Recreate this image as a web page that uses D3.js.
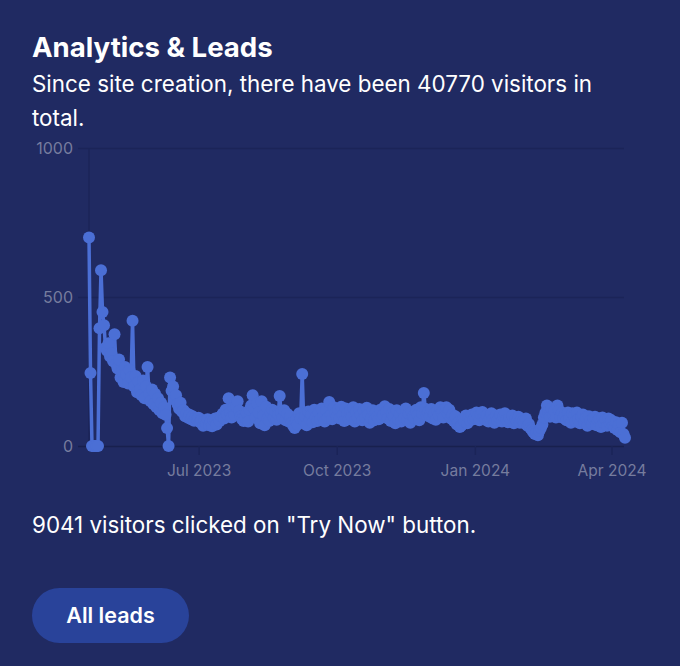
<!DOCTYPE html>
<html>
<head>
<meta charset="utf-8">
<script src="https://cdn.jsdelivr.net/npm/d3@7"></script>
<style>
  html, body { margin: 0; padding: 0; background: #202a62; }
  svg { display: block; font-family: Inter, "Noto Sans", sans-serif; }
</style>
</head>
<body>
<div id="chart"></div>
<script>
// daily visitors, first day is 19 Apr 2023
var startDate = "2023-04-19";
var visitorsApr23 = [700, 245, 0, 0, 0, 0, 0, 395, 590, 450, 405, 330];
var visitorsMay23 = [320, 345, 300, 310, 285, 375, 275, 260, 290, 230,
                     250, 215, 265, 240, 210, 255, 230, 420, 200, 235,
                     180, 215, 190, 170, 220, 160, 200, 265, 175, 150, 190];
var visitorsJun23 = [140, 175, 130, 160, 120, 145, 110, 130, 105, 60,
                     0, 230, 185, 200, 155, 170, 140, 125, 145, 115,
                     120, 100, 110, 95, 105, 90, 100, 85, 95, 90];
var visitorsJul23 = [95, 80, 88, 68, 85, 74, 90, 70, 82, 66,
                     86, 92, 72, 95, 84, 100, 108, 92, 122, 106,
                     160, 112, 96, 128, 104, 132, 150, 118, 100, 90, 84];
var visitorsAug23 = [95, 112, 82, 122, 136, 170, 125, 96, 142, 112,
                     76, 150, 102, 70, 132, 92, 84, 112, 122, 96,
                     116, 88, 106, 168, 112, 94, 120, 86, 108, 82, 100];
var visitorsSep23 = [78, 68, 60, 88, 72, 110, 92, 242, 86, 100,
                     70, 116, 88, 106, 80, 122, 96, 84, 112, 90,
                     126, 100, 82, 120, 94, 148, 104, 90, 130, 110];
var visitorsOct23 = [100, 122, 92, 132, 104, 84, 126, 110, 90, 120,
                     98, 130, 82, 114, 94, 124, 104, 86, 118, 96,
                     128, 106, 78, 94, 120, 86, 112, 100, 90, 122, 96];
var visitorsNov23 = [105, 133, 114, 92, 124, 84, 110, 98, 76, 120,
                     90, 106, 82, 116, 96, 126, 88, 108, 78, 114,
                     100, 92, 122, 104, 86, 130, 110, 178, 125, 102];
var visitorsDec23 = [115, 98, 124, 92, 108, 88, 120, 104, 130, 112,
                     96, 126, 130, 108, 122, 92, 105, 84, 100, 72,
                     80, 64, 68, 90, 82, 102, 76, 96, 86, 106, 90];
var visitorsJan24 = [96, 112, 100, 86, 106, 114, 96, 88, 104, 82,
                     96, 110, 90, 78, 102, 86, 96, 106, 82, 100,
                     110, 88, 80, 96, 84, 102, 76, 92, 82, 98, 78];
var visitorsFeb24 = [90, 84, 76, 92, 68, 74, 60, 54, 46, 40,
                     44, 36, 50, 60, 72, 96, 112, 136, 114, 98,
                     126, 104, 118, 96, 136, 120, 98, 112, 94];
var visitorsMar24 = [106, 86, 112, 94, 78, 110, 100, 82, 112, 90,
                     76, 98, 106, 80, 96, 68, 100, 86, 74, 94,
                     98, 70, 86, 92, 64, 96, 78, 88, 68, 92, 76];
var visitorsApr24 = [86, 68, 60, 80, 54, 72, 46, 78, 40, 28];

var yTicks = [0, 500, 1000];
var xTickDates = ["2023-07-01", "2023-10-01", "2024-01-01", "2024-04-01"];
var xTickLabels = ["Jul 2023", "Oct 2023", "Jan 2024", "Apr 2024"];

var width = 680,
    height = 666,
    plot = {left: 89, right: 625, top: 148, bottom: 446},
    pointColor = "#4b6fd5";

var visitors = [].concat(visitorsApr23, visitorsMay23, visitorsJun23, visitorsJul23,
  visitorsAug23, visitorsSep23, visitorsOct23, visitorsNov23, visitorsDec23,
  visitorsJan24, visitorsFeb24, visitorsMar24, visitorsApr24);

var parse = d3.utcParse("%Y-%m-%d");
var day0 = parse(startDate);
var data = visitors.map(function (v, i) {
  return {date: d3.utcDay.offset(day0, i), value: v};
});

var svg = d3.select("#chart").append("svg")
  .attr("width", width)
  .attr("height", height);

svg.append("text")
  .text("Analytics & Leads")
  .attr("x", 32).attr("y", 57)
  .attr("fill", "#ffffff")
  .style("font-size", "27.6px")
  .style("font-weight", 700);

svg.append("text")
  .text("Since site creation, there have been 40770 visitors in")
  .attr("x", 32).attr("y", 92)
  .attr("fill", "#ffffff")
  .style("font-size", "22.4px");

svg.append("text")
  .text("total.")
  .attr("x", 32).attr("y", 126)
  .attr("fill", "#ffffff")
  .style("font-size", "22.4px");

var x = d3.scaleUtc()
  .domain([data[0].date, data[data.length - 1].date])
  .range([plot.left, plot.right]);

var y = d3.scaleLinear()
  .domain([0, 1000])
  .range([plot.bottom, plot.top]);

// grid lines + y labels
var yAxis = svg.append("g")
  .attr("transform", "translate(" + (plot.right - 1) + ",0)")
  .call(d3.axisLeft(y).tickValues(yTicks).tickFormat(d3.format("d"))
    .tickSize(plot.right - 1 - 78).tickPadding(5));
yAxis.select(".domain").remove();
yAxis.selectAll("line")
  .attr("stroke", function (d) { return d === 0 ? "#18204e" : "#1b2458"; })
  .attr("stroke-width", 1.5);
yAxis.selectAll("text")
  .attr("fill", "#767c9e")
  .style("font-size", "16px")
  .style("font-family", "Inter, sans-serif");

svg.append("line")
  .attr("x1", x(data[0].date)).attr("x2", x(data[0].date))
  .attr("y1", y(1000)).attr("y2", y(0))
  .attr("stroke", "#1b2458")
  .attr("stroke-width", 1.5);

var xAxis = svg.append("g")
  .attr("transform", "translate(0," + plot.bottom + ")")
  .call(d3.axisBottom(x)
    .tickValues(xTickDates.map(parse))
    .tickFormat(function (d, i) { return xTickLabels[i]; })
    .tickSize(9).tickPadding(10));
xAxis.select(".domain").remove();
xAxis.selectAll("line").attr("stroke", "#1b2458").attr("stroke-width", 1.5);
xAxis.selectAll("text")
  .attr("fill", "#767c9e")
  .style("font-size", "15.5px")
  .style("font-family", "Inter, sans-serif");

var line = d3.line()
  .x(function (d) { return x(d.date); })
  .y(function (d) { return y(d.value); });

svg.append("path")
  .datum(data)
  .attr("d", line)
  .attr("fill", "none")
  .attr("stroke", pointColor)
  .attr("stroke-width", 3.5)
  .attr("stroke-linejoin", "round");

svg.selectAll("circle.pt")
  .data(data)
  .enter()
    .append("circle")
    .attr("class", "pt")
    .attr("cx", function (d) { return x(d.date); })
    .attr("cy", function (d) { return y(d.value); })
    .attr("r", 6)
    .attr("fill", pointColor);

svg.append("text")
  .text("9041 visitors clicked on \"Try Now\" button.")
  .attr("x", 32).attr("y", 533)
  .attr("fill", "#ffffff")
  .style("font-size", "22.4px");

svg.append("rect")
  .attr("x", 32).attr("y", 588)
  .attr("width", 157).attr("height", 55)
  .attr("rx", 27.5)
  .attr("fill", "#29439a");

svg.append("text")
  .text("All leads")
  .attr("x", 110.5).attr("y", 623)
  .attr("text-anchor", "middle")
  .attr("fill", "#ffffff")
  .style("font-size", "21.5px")
  .style("font-weight", 600);
</script>
</body>
</html>
